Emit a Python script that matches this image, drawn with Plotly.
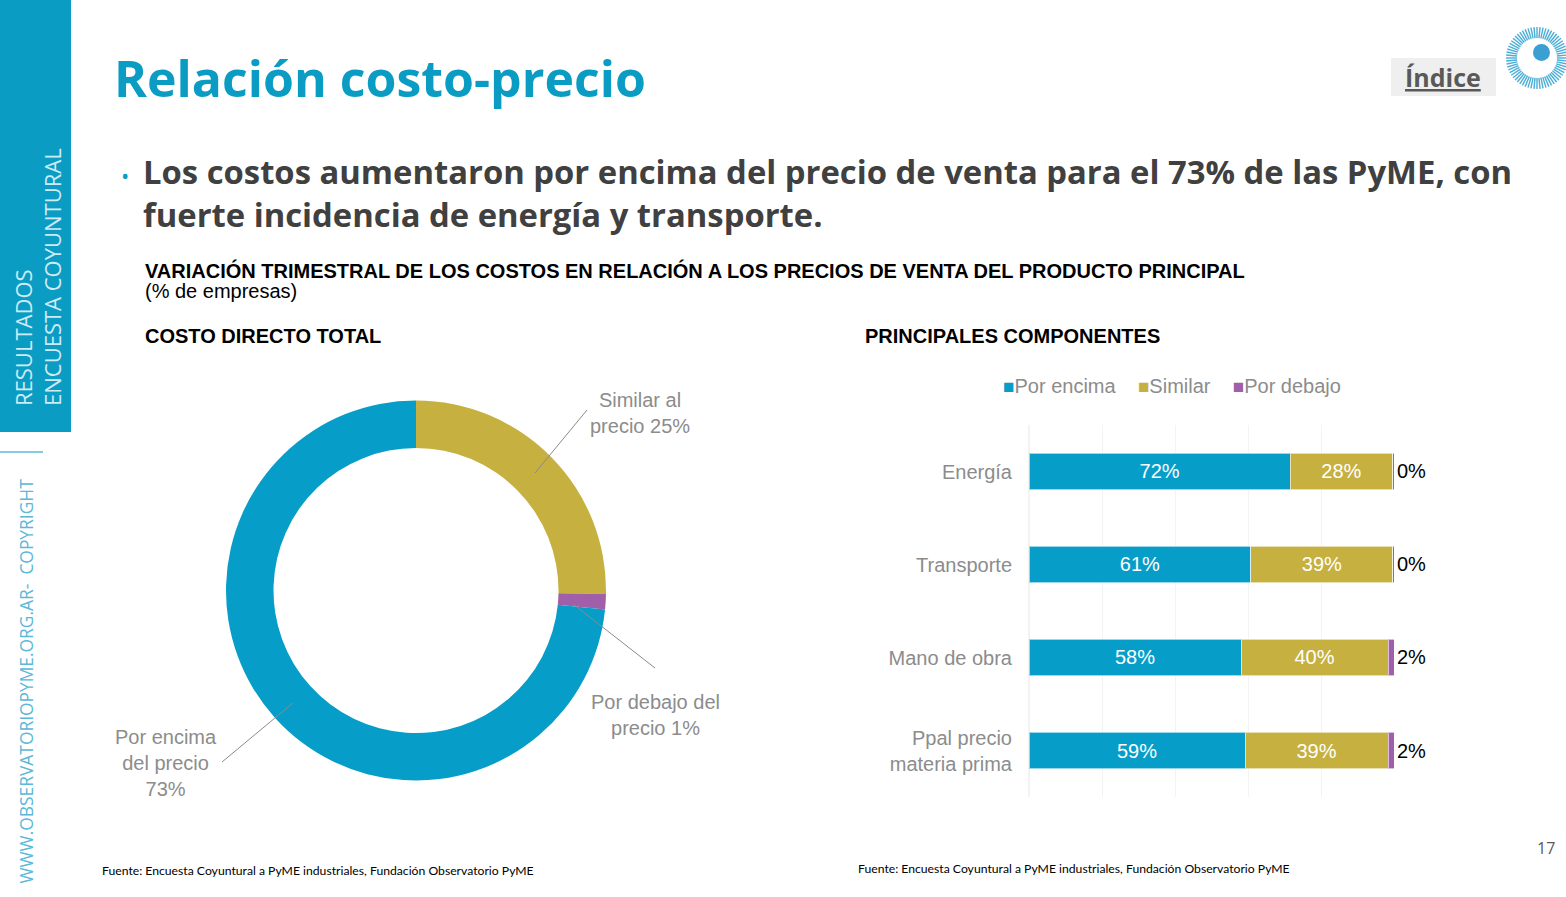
import math
import plotly.graph_objects as go

W, H = 1566, 897

# Donut: costo directo total
donut_labels = ["Similar al precio", "Por debajo del precio", "Por encima del precio"]
donut_values = [25.3, 1.3, 73.4]

# Barras: principales componentes
componentes = ["Energía", "Transporte", "Mano de obra", "Ppal precio<br>materia prima"]
por_encima = [71.6, 60.8, 58.1, 59.2]
similar = [28.0, 38.9, 40.3, 39.2]
por_debajo = [0.4, 0.3, 1.6, 1.6]

CYAN = "#069ec8"
OLIVE = "#c6b03f"
PURPLE = "#a05fa8"
TEAL = "#0b9cc4"
GRIS = "#8c8c8c"


def px(x):
    return x / W


def py(y):
    return 1 - y / H


fig = go.Figure()

# donut
fig.add_trace(go.Pie(
    labels=donut_labels, values=donut_values,
    marker=dict(colors=[OLIVE, PURPLE, CYAN], line=dict(width=0)),
    hole=0.75, sort=False, direction="clockwise", rotation=0,
    textinfo="none", showlegend=False,
    domain=dict(x=[px(226), px(606)], y=[py(781), py(400)]),
))

# barras apiladas
series = [("Por encima", por_encima, CYAN, "white", "inside"),
          ("Similar", similar, OLIVE, "white", "inside"),
          ("Por debajo", por_debajo, PURPLE, "black", "outside")]
for nombre, vals, color, tcol, tpos in series:
    fig.add_trace(go.Bar(
        y=componentes, x=vals, name=nombre, orientation="h", showlegend=False,
        marker=dict(color=color, line=dict(color="rgba(255,255,255,0.6)", width=1)),
        texttemplate="%{x:.0f}%", textposition=tpos, insidetextanchor="middle",
        textfont=dict(color=tcol, size=20, family="Liberation Sans"),
        cliponaxis=False, width=0.39,
    ))

fig.update_layout(
    width=W, height=H,
    margin=dict(l=0, r=0, t=0, b=0),
    paper_bgcolor="white", plot_bgcolor="white",
    barmode="stack",
    font=dict(family="Liberation Sans", color=GRIS, size=20),
    xaxis=dict(domain=[px(1029), px(1394)], range=[0, 100], showticklabels=False,
               showgrid=True, gridcolor="#f3f3f3", gridwidth=1, dtick=20,
               zeroline=True, zerolinecolor="#f3f3f3", fixedrange=True),
    yaxis=dict(domain=[py(797), py(425)], autorange="reversed", showgrid=False,
               tickfont=dict(size=20, color=GRIS), ticklabelstandoff=16,
               zeroline=False, showline=False),
)

shapes = []
# barra lateral
shapes.append(dict(type="rect", xref="paper", yref="paper", x0=0, x1=px(71), y0=py(432), y1=1,
                   fillcolor=TEAL, line=dict(width=0), layer="below"))
shapes.append(dict(type="line", xref="paper", yref="paper", x0=0, x1=px(43), y0=py(452), y1=py(452),
                   line=dict(color="#5bb8d8", width=1.5)))
# recuadro indice
shapes.append(dict(type="rect", xref="paper", yref="paper", x0=px(1391), x1=px(1496), y0=py(96), y1=py(58),
                   fillcolor="#efefef", line=dict(width=0), layer="below"))
# logo: anillo de rayas
cx, cy = 1537, 58
for i in range(64):
    a = 2 * math.pi * i / 64
    shapes.append(dict(type="line", xref="paper", yref="paper",
                       x0=px(cx + 20 * math.cos(a)), y0=py(cy + 20 * math.sin(a)),
                       x1=px(cx + 31 * math.cos(a)), y1=py(cy + 31 * math.sin(a)),
                       line=dict(color="#4aaed6", width=1.4)))
shapes.append(dict(type="circle", xref="paper", yref="paper", x0=px(1533), x1=px(1550),
                   y0=py(61), y1=py(44), fillcolor="#3b9fd2", line=dict(width=0)))
# lineas guia del donut
for (x0, y0, x1, y1) in [(535, 473, 587, 410), (573, 604, 655, 668), (293, 703, 222, 762)]:
    shapes.append(dict(type="line", xref="paper", yref="paper", x0=px(x0), y0=py(y0),
                       x1=px(x1), y1=py(y1), line=dict(color="#8a8a8a", width=1)))
fig.update_layout(shapes=shapes)


def nota(x, y, text, size, color, family="Liberation Sans", xanchor="left", yanchor="middle",
         align="left", angle=0):
    fig.add_annotation(x=px(x), y=py(y), xref="paper", yref="paper", text=text, showarrow=False,
                       xanchor=xanchor, yanchor=yanchor, align=align, textangle=angle,
                       font=dict(size=size, color=color, family=family))


nota(112, 78, "<b>Relación costo-precio</b>", 50, TEAL, family="Open Sans")
nota(125, 175, "•", 22, TEAL, family="Open Sans", xanchor="center")
nota(141, 193, "<b>Los costos aumentaron por encima del precio de venta para el 73% de las PyME, con<br>"
               "fuerte incidencia de energía y transporte.</b>", 32.8, "#404040", family="Open Sans")
nota(143, 270, "<b>VARIACIÓN TRIMESTRAL DE LOS COSTOS EN RELACIÓN A LOS PRECIOS DE VENTA DEL PRODUCTO PRINCIPAL</b>",
     20, "black")
nota(143, 291, "(% de empresas)", 20, "black")
nota(143, 336, "<b>COSTO DIRECTO TOTAL</b>", 20, "black")
nota(863, 336, "<b>PRINCIPALES COMPONENTES</b>", 20, "black")
nota(1443, 77, "<b><u>Índice</u></b>", 25, "#595959", family="Open Sans", xanchor="center")
nota(1546, 848, "17", 16, "#595959", family="Open Sans", xanchor="center")

# leyenda de las barras
sq = "<span style='font-size:19px;color:{}'>■</span>"
gap = "&nbsp;&nbsp;&nbsp;&nbsp;"
nota(1001, 386, sq.format(CYAN) + "Por encima" + gap + sq.format(OLIVE) + "Similar" + gap
     + sq.format(PURPLE) + "Por debajo", 20, GRIS)

# etiquetas del donut
pct = [f"{round(v)}%" for v in donut_values]
nota(640, 413, f"Similar al<br>precio {pct[0]}", 20, GRIS, xanchor="center", align="center")
nota(655, 715, f"Por debajo del<br>precio {pct[1]}", 20, GRIS, xanchor="center", align="center")
nota(166, 763, f"Por encima<br>del precio<br>{pct[2]}", 20, GRIS, xanchor="center", align="center")

fuente = "Fuente: Encuesta Coyuntural a PyME industriales, Fundación Observatorio PyME"
nota(100, 870, fuente, 12.2, "black", family="Lato")
nota(856, 868, fuente, 12.2, "black", family="Lato")

# textos verticales
nota(38, 408, "RESULTADOS<br>ENCUESTA COYUNTURAL", 22, "#cdebf5", family="Open Sans",
     xanchor="center", yanchor="bottom", angle=-90)
nota(25, 886, "WWW.OBSERVATORIOPYME.ORG.AR-  COPYRIGHT", 17.4, "#5bb8d8", family="Open Sans",
     xanchor="center", yanchor="bottom", angle=-90)

fig.write_html("out.html", config={"displayModeBar": False},
               post_script="document.body.style.margin='0';")
